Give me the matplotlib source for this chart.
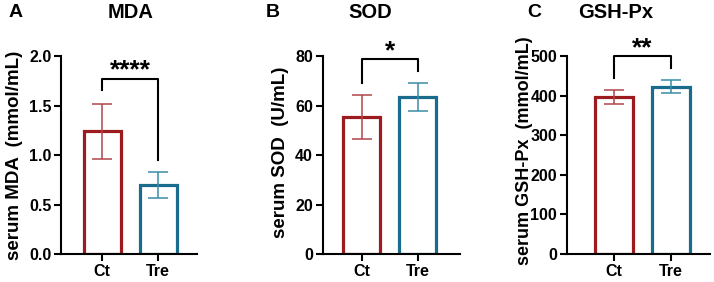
import matplotlib.pyplot as plt

plt.rcParams["font.family"] = ["Liberation Sans", "DejaVu Sans"]
plt.rcParams["font.weight"] = "bold"

groups = ["Ct", "Tre"]

mda_mean = [1.24, 0.70]
mda_sd = [0.28, 0.13]
sod_mean = [55.2, 63.3]
sod_sd = [8.9, 5.7]
gsh_mean = [396, 423]
gsh_sd = [17, 16]

titles = ["MDA", "SOD", "GSH-Px"]
letters = ["A", "B", "C"]
ylabels = ["serum MDA  (mmol/mL)", "serum SOD  (U/mL)", "serum GSH-Px  (mmol/mL)"]
stars = ["****", "*", "**"]
ymaxes = [2.0, 80, 500]
yticks = [[0.0, 0.5, 1.0, 1.5, 2.0], [0, 20, 40, 60, 80], [0, 100, 200, 300, 400, 500]]
tick_fmt = ["{:.1f}", "{:.0f}", "{:.0f}"]
# bracket: top, left leg bottom, right leg bottom
brackets = [(1.77, 1.66, 0.95), (78.8, 69, 74), (500, 444, 470)]

edge_colors = ["#9B1B1F", "#1A6C8C"]
err_colors = ["#B04549", "#3B8BA8"]

fig = plt.figure(figsize=(7.14, 2.82), dpi=100)

axes_pos = [
    (0.0854, 0.0993, 0.191, 0.702),
    (0.452, 0.0993, 0.192, 0.702),
    (0.794, 0.0993, 0.200, 0.702),
]
xlims = [(-0.732, 1.696), (-0.696, 1.75), (-0.82, 1.68)]
letter_x = [0.012, 0.372, 0.738]
title_x = [0.183, 0.519, 0.862]
ylabel_size = [13.5, 13.5, 13]
ylabel_xy = [(-0.34, 0.5), (-0.31, 0.515), (-0.30, 0.52)]

all_means = [mda_mean, sod_mean, gsh_mean]
all_sds = [mda_sd, sod_sd, gsh_sd]

for i in range(3):
    ax = fig.add_axes(axes_pos[i])
    x = [0, 1]
    ax.bar(x, all_means[i], width=0.66, color="white",
           edgecolor=edge_colors, linewidth=2.3, zorder=2)
    for j in range(2):
        ax.errorbar(x[j], all_means[i][j], yerr=all_sds[i][j], fmt="none",
                    ecolor=err_colors[j], elinewidth=1.1, capsize=7,
                    capthick=1.1, zorder=3)

    top, lb, rb = brackets[i]
    ax.plot([0, 0, 1, 1], [lb, top, top, rb], color="black", lw=1.5,
            clip_on=False, zorder=4)
    ax.text(0.5, top - ymaxes[i] * 0.02, stars[i], ha="center", va="bottom",
            fontsize=19, fontweight="bold")

    ax.set_xlim(*xlims[i])
    ax.set_ylim(0, ymaxes[i])
    ax.set_yticks(yticks[i])
    ax.set_yticklabels([tick_fmt[i].format(v) for v in yticks[i]])
    ax.set_xticks(x)
    ax.set_xticklabels(groups)
    ax.tick_params(axis="both", labelsize=11.5, width=1.5, length=5, pad=2)
    for lab in ax.get_xticklabels() + ax.get_yticklabels():
        lab.set_fontweight("bold")
    ax.spines["top"].set_visible(False)
    ax.spines["right"].set_visible(False)
    ax.spines["left"].set_linewidth(1.5)
    ax.spines["bottom"].set_linewidth(1.5)
    ax.set_ylabel(ylabels[i], fontsize=ylabel_size[i], fontweight="bold",
                  va="center")
    ax.yaxis.set_label_coords(*ylabel_xy[i])

    fig.text(letter_x[i], 0.955, letters[i], fontsize=14, fontweight="bold",
             ha="left", va="center")
    fig.text(title_x[i], 0.955, titles[i], fontsize=14.5, fontweight="bold",
             ha="center", va="center")

fig.savefig("out.png", dpi=100)
